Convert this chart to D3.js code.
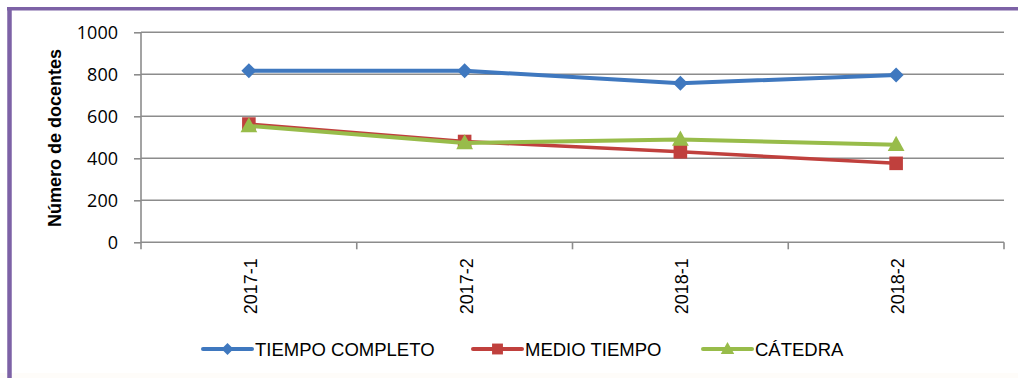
<!DOCTYPE html>
<html><head><meta charset="utf-8">
<script src="https://cdn.jsdelivr.net/npm/d3@7/dist/d3.min.js"></script>
<style>
html,body{margin:0;padding:0;background:#fff;}
svg{display:block;font-family:"Liberation Sans",Arial,sans-serif;}
</style></head>
<body>
<svg id="c" width="1018" height="378"></svg>
<script>
const categories = ["2017-1","2017-2","2018-1","2018-2"];
const tiempoCompleto = [817, 817, 757, 797];
const medioTiempo = [563, 480, 431, 376];
const catedra = [554, 473, 490, 465];
const yTicks = [0, 200, 400, 600, 800, 1000];
const seriesNames = ["TIEMPO COMPLETO","MEDIO TIEMPO","CÁTEDRA"];

const series = [
  {name: seriesNames[0], values: tiempoCompleto, color: "#3f78bf", marker: "diamond", w: 4},
  {name: seriesNames[1], values: medioTiempo, color: "#c0403d", marker: "square", w: 3.5},
  {name: seriesNames[2], values: catedra, color: "#98bc4a", marker: "triangle", w: 4}
];

const svg = d3.select("#c");
svg.append("rect").attr("x",0).attr("y",373).attr("width",1018).attr("height",5).attr("fill","#fefcf9");
svg.append("line").attr("x1",9.5).attr("x2",9.5).attr("y1",7).attr("y2",378).attr("stroke","#7d62a6").attr("stroke-width",4.5);
svg.append("line").attr("x1",7).attr("x2",1018).attr("y1",8.8).attr("y2",8.8).attr("stroke","#7d62a6").attr("stroke-width",3.5);

const pLeft = 141, pRight = 1004, pTop = 32.3, pBottom = 242.3;
const x = d3.scaleBand().domain(categories).range([pLeft, pRight]).padding(0);
const y = d3.scaleLinear().domain([0, 1000]).range([pBottom, pTop]);
const cx = c => x(c) + x.bandwidth()/2;

svg.append("g").selectAll("line").data(yTicks.filter(t => t > 0)).join("line")
  .attr("x1", pLeft).attr("x2", pRight)
  .attr("y1", d => y(d)).attr("y2", d => y(d))
  .attr("stroke", "#8c8c8c").attr("stroke-width", 1.6);

const yAxis = svg.append("g").attr("transform", `translate(${pLeft},0)`)
  .call(d3.axisLeft(y).tickValues(yTicks).tickSize(7).tickPadding(16).tickFormat(d3.format("d")));
yAxis.select(".domain").attr("stroke", "#8c8c8c").attr("stroke-width", 1.6).attr("d", `M0,${pTop}V${pBottom}`);
yAxis.selectAll(".tick line").attr("stroke", "#8c8c8c").attr("stroke-width", 1.6);
yAxis.selectAll(".tick text").attr("font-size", 18).attr("fill", "#000")
  .attr("font-family", '"Open Sans","Liberation Sans",sans-serif');

const xAxis = svg.append("g").attr("transform", `translate(0,${pBottom})`)
  .call(d3.axisBottom(x).tickSize(0).tickFormat(""));
xAxis.select(".domain").attr("stroke", "#8c8c8c").attr("stroke-width", 1.6).attr("d", `M${pLeft},0H${pRight}`);
const edges = categories.map(c => x(c) + x.bandwidth()).concat([pLeft]);
xAxis.append("g").selectAll("line").data(edges).join("line")
  .attr("x1", d => d).attr("x2", d => d).attr("y1", 0).attr("y2", 7)
  .attr("stroke", "#8c8c8c").attr("stroke-width", 1.6);
xAxis.append("g").selectAll("text").data(categories).join("text")
  .attr("transform", d => `translate(${cx(d) + 8},16) rotate(-90)`)
  .attr("text-anchor", "end")
  .attr("font-size", 18).attr("fill", "#000")
  .text(d => d);

svg.append("text")
  .attr("transform", `translate(61,138) rotate(-90)`)
  .attr("text-anchor", "middle").attr("font-weight", "bold")
  .attr("font-size", 18).attr("fill", "#000")
  .text("Número de docentes");

function markerPath(type, size) {
  const s = size;
  if (type === "diamond") return `M0,${-s}L${s},0L0,${s}L${-s},0Z`;
  if (type === "square") return `M${-s},${-s}H${s}V${s}H${-s}Z`;
  return `M0,${-s*1.1}L${s*1.05},${s*0.8}H${-s*1.05}Z`;
}
const mSize = {diamond: 7.5, square: 6.8, triangle: 8};

const line = d3.line().x((d, i) => cx(categories[i])).y(d => y(d));
series.forEach(s => {
  const g = svg.append("g");
  g.append("path").attr("d", line(s.values)).attr("fill", "none")
    .attr("stroke", s.color).attr("stroke-width", s.w).attr("stroke-linejoin", "round");
  g.selectAll("path.m").data(s.values).join("path").attr("class", "m")
    .attr("transform", (d, i) => `translate(${cx(categories[i])},${y(d)})`)
    .attr("d", markerPath(s.marker, mSize[s.marker]))
    .attr("fill", s.color);
});

const legendItems = [
  {s: series[0], x0: 203, x1: 252, tx: 255},
  {s: series[1], x0: 473, x1: 522, tx: 525},
  {s: series[2], x0: 703, x1: 752, tx: 755}
];
const ly = 349;
const lg = svg.append("g");
legendItems.forEach(it => {
  lg.append("line").attr("x1", it.x0).attr("x2", it.x1).attr("y1", ly).attr("y2", ly)
    .attr("stroke", it.s.color).attr("stroke-width", 4).attr("stroke-linecap", "round");
  lg.append("path").attr("transform", `translate(${(it.x0+it.x1)/2},${ly})`)
    .attr("d", markerPath(it.s.marker, mSize[it.s.marker]*0.8)).attr("fill", it.s.color);
  lg.append("text").attr("x", it.tx).attr("y", ly).attr("dy", "0.36em")
    .attr("font-size", 18.5).attr("fill", "#000").text(it.s.name);
});
</script>
</body></html>
